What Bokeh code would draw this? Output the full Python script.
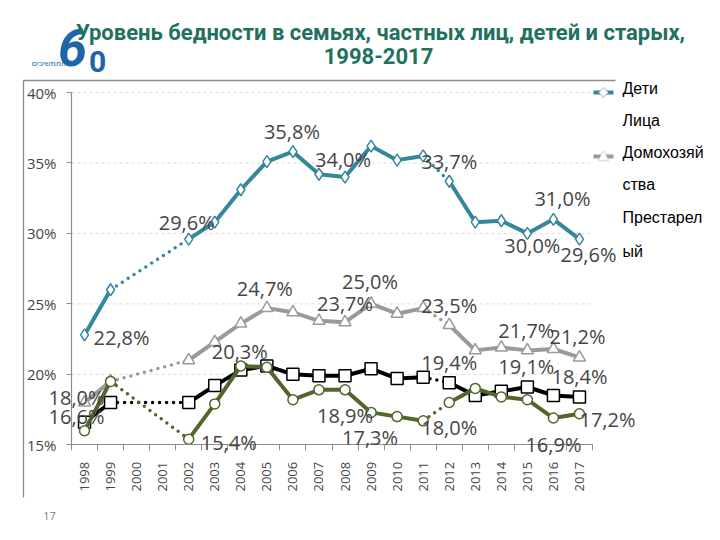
import math
from bokeh.plotting import figure
from bokeh.models import Range1d, FixedTicker, Label, Arrow, PolyAnnotation, LinearAxis
from bokeh.embed import file_html
from bokeh.resources import INLINE

# ---------------- data ----------------
years = list(range(1998, 2018))
children   = [22.8, 26.0, None, None, 29.6, 30.8, 33.1, 35.1, 35.8, 34.2, 34.0, 36.2, 35.2, 35.5, 33.7, 30.8, 30.9, 30.0, 31.0, 29.6]
households = [18.0, 19.5, None, None, 21.0, 22.3, 23.6, 24.7, 24.4, 23.8, 23.7, 25.0, 24.3, 24.7, 23.5, 21.7, 21.9, 21.7, 21.8, 21.2]
persons    = [16.6, 18.0, None, None, 18.0, 19.2, 20.3, 20.6, 20.0, 19.9, 19.9, 20.4, 19.7, 19.8, 19.4, 18.5, 18.8, 19.1, 18.5, 18.4]
elderly    = [16.0, 19.5, None, None, 15.4, 17.9, 20.6, 20.5, 18.2, 18.9, 18.9, 17.3, 17.0, 16.7, 18.0, 19.0, 18.4, 18.2, 16.9, 17.2]
break_after = [2011]          # survey change: dotted link after this year
y_ticks = [15, 20, 25, 30, 35, 40]
title_lines = ["Уровень бедности в семьях, частных лиц, детей и старых,", "1998-2017"]
legend_rows = ["Дети", "Лица", "Домохозяй", "ства", "Престарел", "ый"]

# ---------------- layout (pixel geometry of the plot area) ----------------
W, H = 720, 540
FL, FR, FT, FB = 71, 592, 92, 444.3
X0, X1 = years[0] - 0.5, years[-1] + 0.5
Y0, Y1 = y_ticks[0], y_ticks[-1]
XS = (X1 - X0) / (FR - FL)
YS = (Y1 - Y0) / (FB - FT)

def dxp(px):
    return X0 + (px - FL) * XS

def dyp(py):
    return Y0 + (FB - py) * YS

p = figure(width=W, height=H, output_backend="svg", toolbar_location=None, title=None,
           x_range=Range1d(X0 - FL * XS, X0 + (W - FL) * XS),
           y_range=Range1d(Y0 - (H - FB) * YS, Y1 + FT * YS),
           x_axis_location=None, y_axis_location=None,
           min_border=0, min_border_left=0, min_border_right=0, min_border_top=0, min_border_bottom=0)
p.outline_line_color = None
p.background_fill_color = "white"
p.border_fill_color = "white"
p.grid.visible = False

AX_COLOR = "#8c8c8c"
TXT = "#454545"
FONT = "Open Sans"

# horizontal grid lines
p.segment(x0=[X0] * (len(y_ticks) - 1), x1=[X1] * (len(y_ticks) - 1), y0=y_ticks[1:], y1=y_ticks[1:],
          line_color="#d9d9d9", line_width=1, line_dash="3 3")

# x axis: labels at year centres, tick marks between years
xaxis = LinearAxis(fixed_location=Y0, bounds=(X0, X1))
xaxis.ticker = FixedTicker(ticks=years, minor_ticks=[y - 0.5 for y in years] + [years[-1] + 0.5])
xaxis.major_label_overrides = {y: str(y) for y in years}
xaxis.major_label_orientation = math.pi / 2
xaxis.major_tick_out = 0
xaxis.major_tick_in = 0
xaxis.minor_tick_out = 6
xaxis.minor_tick_in = 0
xaxis.minor_tick_line_color = AX_COLOR
xaxis.axis_line_color = AX_COLOR
xaxis.axis_line_width = 1.2
xaxis.major_label_standoff = 11
xaxis.major_label_text_font = FONT
xaxis.major_label_text_font_size = "13px"
xaxis.major_label_text_color = TXT
p.add_layout(xaxis, "below")

yaxis = LinearAxis(fixed_location=X0, bounds=(Y0, Y1))
yaxis.ticker = FixedTicker(ticks=y_ticks)
yaxis.major_label_overrides = {t: f"{t}%" for t in y_ticks}
yaxis.major_tick_out = 5
yaxis.major_tick_in = 0
yaxis.minor_tick_line_color = None
yaxis.major_tick_line_color = AX_COLOR
yaxis.axis_line_color = AX_COLOR
yaxis.axis_line_width = 1.2
yaxis.major_label_standoff = 10
yaxis.major_label_text_font = FONT
yaxis.major_label_text_font_size = "15px"
yaxis.major_label_text_color = TXT
p.add_layout(yaxis, "left")

# ---------------- series ----------------
series = [
    dict(key="children", vals=children, color="#35879b", marker="diamond", size=12),
    dict(key="households", vals=households, color="#9a9a9a", marker="triangle", size=12),
    dict(key="persons", vals=persons, color="#000000", marker="square", size=12),
    dict(key="elderly", vals=elderly, color="#52662c", marker="circle", size=10),
]

for s in series:
    pts = [(y, v) for y, v in zip(years, s["vals"]) if v is not None]
    solid_x, solid_y, dot_x, dot_y = [], [], [], []
    for (ya, va), (yb, vb) in zip(pts[:-1], pts[1:]):
        if yb == ya + 1 and ya not in break_after:
            solid_x.append([ya, yb]); solid_y.append([va, vb])
        else:
            dot_x.append([ya, yb]); dot_y.append([va, vb])
    p.multi_line(solid_x, solid_y, line_color=s["color"], line_width=4, line_join="round", line_cap="round")
    p.multi_line(dot_x, dot_y, line_color=s["color"], line_width=3.5, line_dash="0 7", line_cap="round")
    p.scatter([q[0] for q in pts], [q[1] for q in pts], marker=s["marker"], size=s["size"],
              fill_color="white", line_color=s["color"], line_width=1.5)

# ---------------- data labels ----------------
vals_by_key = {s["key"]: dict(zip(years, s["vals"])) for s in series}
# (series, year, x offset px, y offset px (down positive))
label_layout = [
    ("children", 1998, 37, 3), ("children", 2002, -2, -17), ("children", 2006, -1, -20),
    ("children", 2008, -2, -18), ("children", 2012, 0, -20), ("children", 2016, 9, -21),
    ("children", 2015, 5, 12), ("children", 2017, 9, 15),
    ("households", 1998, -8, -5), ("households", 2005, -2, -20), ("households", 2008, 0, -19),
    ("households", 2009, -1, -22), ("households", 2012, 0, -20), ("households", 2015, -1, -20),
    ("households", 2017, -2, -21),
    ("persons", 1998, -8, -6), ("persons", 2004, -1, -19), ("persons", 2012, 0, -20),
    ("persons", 2015, -1, -21), ("persons", 2017, 0, -20),
    ("elderly", 2002, 40, 3), ("elderly", 2008, 0, 26), ("elderly", 2009, -1, 25),
    ("elderly", 2012, 0, 25), ("elderly", 2016, 0, 26), ("elderly", 2017, 28, 6),
]
for key, yr, ox, oy in label_layout:
    v = vals_by_key[key][yr]
    txt = f"{v:.1f}".replace(".", ",") + "%"
    p.add_layout(Label(x=yr, y=v, text=txt, x_offset=ox, y_offset=-oy, text_align="center",
                       text_baseline="middle", text_font=FONT, text_font_size="20px",
                       text_color=TXT))

# ---------------- logo (drawn first, under the title) ----------------
LOGO = "#1f66a8"
p.add_layout(Label(x=dxp(72), y=dyp(47), text="6", text_align="center", text_baseline="middle",
                   text_font="Roboto", text_font_style="bold italic", text_font_size="52px",
                   text_color=LOGO))
p.add_layout(Label(x=dxp(97), y=dyp(61), text="0", text_align="center", text_baseline="middle",
                   text_font="Roboto", text_font_style="bold", text_font_size="30px",
                   text_color=LOGO))
p.add_layout(Label(x=dxp(51), y=dyp(63), text="וממשיכים...", text_align="center", text_baseline="middle",
                   text_font="DejaVu Sans", text_font_size="8px", text_color=LOGO))

# ---------------- title ----------------
TITLE_COLOR = "#23705e"
for txt, (cx, cy) in zip(title_lines, [(380, 32), (378, 55)]):
    p.add_layout(Label(x=dxp(cx), y=dyp(cy), text=txt, text_align="center", text_baseline="middle",
                       text_font="Roboto", text_font_style="bold", text_font_size="22px",
                       text_color=TITLE_COLOR))

# ---------------- slide frame ----------------
for (xa, ya_, xb, yb_) in [(23, 80, 615, 80), (23, 80, 23, 497)]:
    p.add_layout(Arrow(end=None, x_start=dxp(xa), y_start=dyp(ya_), x_end=dxp(xb), y_end=dyp(yb_),
                       line_color="#8c8c8c", line_width=1.3))

# ---------------- legend ----------------
leg_y = [88, 120, 152, 184, 217, 251]
for txt, ly in zip(legend_rows, leg_y):
    p.add_layout(Label(x=dxp(622), y=dyp(ly), text=txt, text_align="left", text_baseline="middle",
                       text_font="Liberation Sans", text_font_size="16px", text_color="#000000"))

for col, gy, shape in [(series[0]["color"], 92, "diamond"), (series[1]["color"], 156, "triangle")]:
    p.add_layout(Arrow(end=None, x_start=dxp(593), y_start=dyp(gy), x_end=dxp(613), y_end=dyp(gy),
                       line_color=col, line_width=4))
    if shape == "diamond":
        xs = [603 - 5, 603, 603 + 5, 603]; ys = [gy, gy - 5, gy, gy + 5]
    else:
        xs = [603, 603 + 5.5, 603 - 5.5]; ys = [gy - 6, gy + 4, gy + 4]
    p.add_layout(PolyAnnotation(xs=[dxp(a) for a in xs], ys=[dyp(b) for b in ys],
                                fill_color="white", fill_alpha=1, line_color=col, line_width=1.5))

# ---------------- slide number ----------------
p.add_layout(Label(x=dxp(49), y=dyp(515), text="17", text_align="center", text_baseline="middle",
                   text_font=FONT, text_font_size="11px", text_color="#7f7f7f"))

open("out.html", "w").write(file_html(p, INLINE))
